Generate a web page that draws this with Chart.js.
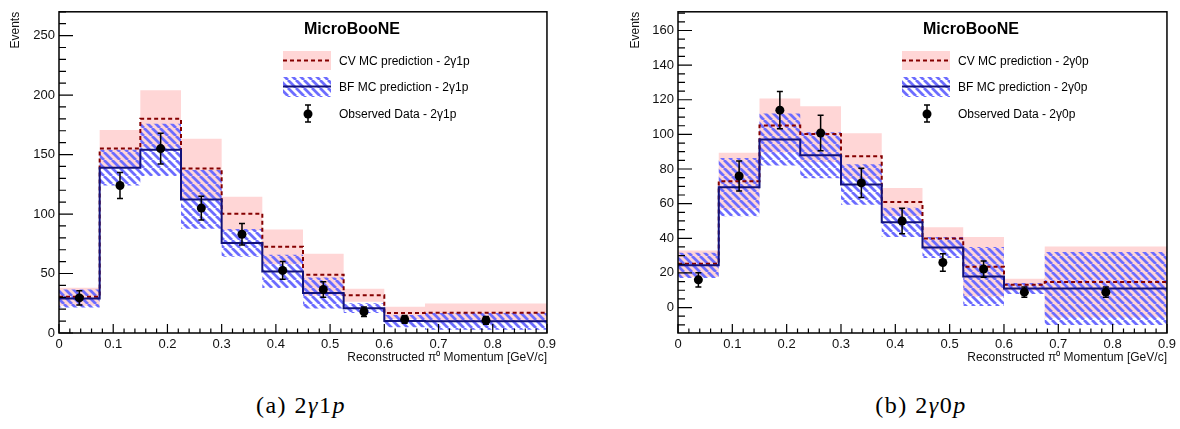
<!DOCTYPE html>
<html>
<head>
<meta charset="utf-8">
<script src="https://cdn.jsdelivr.net/npm/chart.js@4.4.0/dist/chart.umd.min.js"></script>
<style>
  body { margin: 0; background: #fff; width: 1180px; height: 429px; position: relative; overflow: hidden; }
  .plot { position: absolute; top: 0; width: 560px; height: 370px; }
  #wrap1p { left: 0; }
  #wrap0p { left: 620px; }
  .caption { position: absolute; top: 392px; width: 200px; text-align: center;
    font-family: "Liberation Serif", "Times New Roman", serif; font-size: 24px; letter-spacing: 1.5px; color: #000; }
  .caption i { font-style: italic; }
</style>
</head>
<body>
<div class="plot" id="wrap1p"><canvas id="chart1p"></canvas></div>
<div class="plot" id="wrap0p"><canvas id="chart0p"></canvas></div>
<div class="caption" style="left:201px">(a) 2<i>γ</i>1<i>p</i></div>
<div class="caption" style="left:821px">(b) 2<i>γ</i>0<i>p</i></div>
<script>
// bin edges of the reconstructed pi0 momentum (GeV/c)
const binEdges = [0, 0.075, 0.15, 0.225, 0.3, 0.375, 0.45, 0.525, 0.6, 0.675, 0.9];

// 2g1p
const cv1p     = [30.5, 155, 180, 138.3, 100.3, 72.4, 49, 31.7, 16.8, 17.1];
const cv1pErr  = [7.5, 15.6, 24, 25, 14.2, 14.6, 17.7, 5.5, 5.2, 7.6];
const bf1p     = [29, 139, 154, 112.3, 75.7, 51.8, 33.6, 20.9, 10, 9.8];
const bf1pErr  = [7.5, 15, 22, 24.7, 11.7, 14, 13, 4.1, 5.2, 7];
const obs1p    = [29.5, 124, 155, 105, 83, 52.6, 36.6, 17.9, 11.4, 10.6];
const obs1pErr = [6, 11, 13, 10, 9, 7.5, 6.5, 4, 3.3, 3.2];

// 2g0p
const cv0p     = [25.3, 73, 105.1, 100.2, 87.4, 60.9, 39.9, 23.5, 13.2, 14.7];
const cv0pErr  = [7.7, 16.4, 15.6, 16.1, 13.2, 8.2, 6.5, 17.3, 3.4, 20.5];
const bf0p     = [24.4, 69.5, 97.1, 87.9, 71, 49.2, 34.7, 17.9, 11, 11];
const bf0pErr  = [7.3, 16.8, 15, 13.3, 11.7, 8.4, 6.1, 17, 3.2, 21.1];
const obs0p    = [16, 76, 114, 100.8, 72, 50, 26, 22.2, 8.9, 8.9];
const obs0pErr = [4.1, 8.7, 10.7, 10.2, 8.4, 7.4, 5, 4.7, 3, 3];

const PINK = '#ffd6d6';
const RED = '#850000';
const NAVY = '#12127a';
const HATCH = '#6c6cff';
const FONT = '"Liberation Sans", Arial, Helvetica, sans-serif';

// histogram outline: one point per bin edge, last bin value repeated
function steps(vals) {
  return binEdges.map((x, i) => ({ x, y: vals[Math.min(i, vals.length - 1)] }));
}
function shift(vals, errs, sign) {
  return vals.map((v, i) => v + sign * errs[i]);
}
function centers(vals) {
  return vals.map((y, i) => ({ x: (binEdges[i] + binEdges[i + 1]) / 2, y }));
}

function hatchPattern() {
  const s = 8;
  const c = document.createElement('canvas');
  c.width = s; c.height = s;
  const g = c.getContext('2d');
  g.strokeStyle = HATCH;
  g.lineWidth = 2.8;
  g.beginPath();
  for (let k = -1; k <= 1; k++) {
    g.moveTo(k * s, 0);
    g.lineTo(k * s + s, s);
  }
  g.stroke();
  return g.createPattern(c, 'repeat');
}

// vertical error bar with small caps
function drawErrorBar(ctx, x, top, bot) {
  ctx.strokeStyle = '#000';
  ctx.lineWidth = 1.5;
  ctx.beginPath();
  ctx.moveTo(x, top); ctx.lineTo(x, bot);
  ctx.moveTo(x - 3, top); ctx.lineTo(x + 3, top);
  ctx.moveTo(x - 3, bot); ctx.lineTo(x + 3, bot);
  ctx.stroke();
}

// ROOT-like frame, inner ticks, error bars and legend
const rootStyle = {
  id: 'rootStyle',
  afterDatasetsDraw(chart, args, opts) {
    const { ctx, scales: { x, y } } = chart;
    ctx.save();
    opts.obs.forEach((v, i) => {
      const px = x.getPixelForValue((binEdges[i] + binEdges[i + 1]) / 2);
      drawErrorBar(ctx, px, y.getPixelForValue(v + opts.obsErr[i]), y.getPixelForValue(v - opts.obsErr[i]));
    });
    ctx.restore();
  },
  afterDraw(chart, args, opts) {
    const { ctx, chartArea: a, scales: { x, y } } = chart;
    ctx.save();
    ctx.strokeStyle = '#000';
    ctx.lineWidth = 1.5;
    ctx.strokeRect(a.left, a.top, a.right - a.left, a.bottom - a.top);

    // x ticks
    ctx.lineWidth = 1.2;
    ctx.beginPath();
    for (let k = 0; k <= 45; k++) {
      const px = x.getPixelForValue(k * 0.02);
      const len = k % 5 === 0 ? 9 : 4.5;
      ctx.moveTo(px, a.bottom); ctx.lineTo(px, a.bottom - len);
    }
    // y ticks
    const m = opts.yMinor;
    for (let k = Math.ceil(y.min / m); k * m <= y.max; k++) {
      const py = y.getPixelForValue(k * m);
      const len = (k * m) % opts.yMajor === 0 ? 14 : 7;
      ctx.moveTo(a.left, py); ctx.lineTo(a.left + len, py);
    }
    ctx.stroke();

    // legend
    const lx = a.left + 224;
    ctx.fillStyle = '#000';
    ctx.textBaseline = 'middle';
    ctx.font = 'bold 16px ' + FONT;
    ctx.fillText('MicroBooNE', a.left + 245, 30);

    ctx.fillStyle = PINK;
    ctx.fillRect(lx, 51, 48, 19);
    ctx.strokeStyle = RED;
    ctx.lineWidth = 2;
    ctx.setLineDash([4, 3]);
    ctx.beginPath(); ctx.moveTo(lx, 60.5); ctx.lineTo(lx + 48, 60.5); ctx.stroke();
    ctx.setLineDash([]);

    ctx.fillStyle = hatchPattern();
    ctx.fillRect(lx, 77, 48, 20);
    ctx.strokeStyle = NAVY;
    ctx.beginPath(); ctx.moveTo(lx, 86.5); ctx.lineTo(lx + 48, 86.5); ctx.stroke();

    drawErrorBar(ctx, lx + 25, 105, 122);
    ctx.fillStyle = '#000';
    ctx.beginPath(); ctx.arc(lx + 25, 114, 4.5, 0, Math.PI * 2); ctx.fill();

    ctx.font = '12px ' + FONT;
    ctx.fillText('CV MC prediction - 2γ' + opts.tag, a.left + 280, 62);
    ctx.fillText('BF MC prediction - 2γ' + opts.tag, a.left + 280, 88);
    ctx.fillText('Observed Data - 2γ' + opts.tag, a.left + 280, 115);
    ctx.restore();
  }
};

function makeChart(id, tag, cv, cvErr, bf, bfErr, obs, obsErr, yMin, yMax, yMajor, yMinor, yAxisWidth) {
  const stepLine = { stepped: true, pointRadius: 0, borderWidth: 0 };
  return new Chart(document.getElementById(id), {
    type: 'line',
    data: {
      datasets: [
        { ...stepLine, data: steps(shift(cv, cvErr, -1)), fill: false, order: 10 },
        { ...stepLine, data: steps(shift(cv, cvErr, 1)), fill: '-1', backgroundColor: PINK, order: 9 },
        { ...stepLine, data: steps(shift(bf, bfErr, -1)), fill: false, order: 8 },
        { ...stepLine, data: steps(shift(bf, bfErr, 1)), fill: '-1', backgroundColor: hatchPattern(), order: 7 },
        { data: steps(cv), stepped: true, pointRadius: 0, borderColor: RED, borderWidth: 2, borderDash: [4, 3], fill: false, order: 3 },
        { data: steps(bf), stepped: true, pointRadius: 0, borderColor: NAVY, borderWidth: 2, fill: false, order: 2 },
        { data: centers(obs), showLine: false, pointRadius: 4.5, pointBackgroundColor: '#000', pointBorderWidth: 0, order: 1 }
      ]
    },
    options: {
      responsive: true,
      maintainAspectRatio: false,
      animation: false,
      events: [],
      layout: { padding: { top: 2, right: 12, left: 0, bottom: 0 } },
      plugins: {
        legend: { display: false },
        tooltip: { enabled: false },
        rootStyle: { tag, obs, obsErr, yMajor, yMinor }
      },
      scales: {
        x: {
          type: 'linear', min: 0, max: 0.9,
          afterFit: s => { s.height = 37; },
          grid: { display: false, drawTicks: false },
          border: { display: false },
          ticks: { stepSize: 0.1, padding: 4, maxRotation: 0, autoSkip: false, color: '#111', font: { family: FONT, size: 13 } },
          title: { display: true, text: 'Reconstructed π⁰ Momentum [GeV/c]', align: 'end', color: '#111',
                   font: { family: FONT, size: 12 }, padding: { top: 0, bottom: 5 } }
        },
        y: {
          min: yMin, max: yMax,
          afterFit: s => { s.width = yAxisWidth; },
          grid: { display: false, drawTicks: false },
          border: { display: false },
          ticks: { stepSize: yMajor, includeBounds: false, padding: 4, color: '#111', font: { family: FONT, size: 13 } },
          title: { display: true, text: 'Events', align: 'end', color: '#111',
                   font: { family: FONT, size: 12 }, padding: { top: 8, bottom: 0 } }
        }
      }
    },
    plugins: [rootStyle]
  });
}

makeChart('chart1p', '1p', cv1p, cv1pErr, bf1p, bf1pErr, obs1p, obs1pErr, 0, 270, 50, 10, 59);
makeChart('chart0p', '0p', cv0p, cv0pErr, bf0p, bf0pErr, obs0p, obs0pErr, -14.7, 170.8, 20, 5, 58);
</script>
</body>
</html>
